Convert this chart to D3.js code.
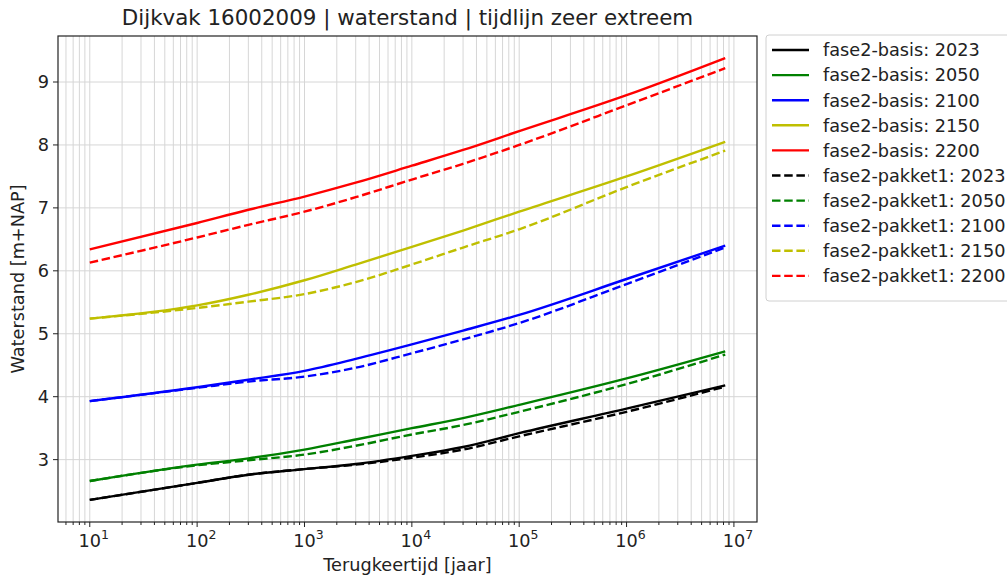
<!DOCTYPE html>
<html>
<head>
<meta charset="utf-8">
<script src="https://cdn.jsdelivr.net/npm/d3@7"></script>
<style>
  body { margin: 0; background: #fff; }
  svg { font-family: "DejaVu Sans", sans-serif; }
</style>
</head>
<body>
<div id="chart"></div>
<script>
// Terugkeertijd (jaar) sample points shared by all series
const returnPeriods = [10, 100, 300, 1000, 3000, 1e4, 3e4, 1e5, 1e6, 8.3e6];

// basis series
const basis2023 = [2.36, 2.63, 2.76, 2.85, 2.93, 3.06, 3.20, 3.42, 3.81, 4.18];
const basis2050 = [2.66, 2.92, 3.02, 3.16, 3.32, 3.50, 3.66, 3.87, 4.29, 4.72];
const basis2100 = [3.93, 4.15, 4.27, 4.41, 4.60, 4.83, 5.05, 5.30, 5.87, 6.40];
const basis2150 = [5.24, 5.45, 5.62, 5.85, 6.10, 6.38, 6.64, 6.94, 7.50, 8.05];
const basis2200 = [6.34, 6.76, 6.97, 7.18, 7.40, 7.67, 7.92, 8.22, 8.79, 9.38];

// pakket1 series
const pakket2023 = [2.36, 2.63, 2.76, 2.85, 2.92, 3.03, 3.16, 3.37, 3.76, 4.16];
const pakket2050 = [2.66, 2.91, 2.99, 3.08, 3.22, 3.40, 3.55, 3.76, 4.20, 4.67];
const pakket2100 = [3.93, 4.14, 4.24, 4.32, 4.46, 4.69, 4.91, 5.17, 5.79, 6.37];
const pakket2150 = [5.24, 5.41, 5.51, 5.63, 5.82, 6.10, 6.37, 6.66, 7.33, 7.91];
const pakket2200 = [6.13, 6.53, 6.73, 6.94, 7.17, 7.45, 7.70, 8.00, 8.63, 9.22];

const years = ["2023", "2050", "2100", "2150", "2200"];
const colors = ["#000000", "#008000", "#0000ff", "#bfbf00", "#ff0000"];
const yTicks = [3, 4, 5, 6, 7, 8, 9];
const xTicks = [1e1, 1e2, 1e3, 1e4, 1e5, 1e6, 1e7];

const basisValues = [basis2023, basis2050, basis2100, basis2150, basis2200];
const pakketValues = [pakket2023, pakket2050, pakket2100, pakket2150, pakket2200];

const series = [
    ...years.map((yr, i) => ({ name: "fase2-basis: " + yr, values: basisValues[i], color: colors[i], dashed: false })),
    ...years.map((yr, i) => ({ name: "fase2-pakket1: " + yr, values: pakketValues[i], color: colors[i], dashed: true }))
];

{
    const width = 1007, height = 580;
    const margin = { top: 36, left: 58 };
    const innerWidth = 757 - margin.left;
    const innerHeight = 522 - margin.top;
    const fs = 17.7;

    const svg = d3.select("#chart")
        .append("svg")
        .attr("width", width)
        .attr("height", height);

    const g = svg.append("g")
        .attr("transform", `translate(${margin.left}, ${margin.top})`);

    // matplotlib-style 5% margins in log space
    const lx0 = Math.log10(d3.min(returnPeriods)), lx1 = Math.log10(d3.max(returnPeriods));
    const padX = (lx1 - lx0) * 0.05;
    const x = d3.scaleLog()
        .domain([Math.pow(10, lx0 - padX), Math.pow(10, lx1 + padX)])
        .range([0, innerWidth]);

    const allVals = series.flatMap(s => s.values);
    const y0 = d3.min(allVals), y1 = d3.max(allVals);
    const padY = (y1 - y0) * 0.05;
    const y = d3.scaleLinear()
        .domain([y0 - padY, y1 + padY])
        .range([innerHeight, 0]);

    // minor ticks (2..9 x 10^k)
    const minorTicks = [];
    for (let k = 0; k <= 7; k++) {
        for (let m = 2; m <= 9; m++) {
            const v = m * Math.pow(10, k);
            if (v >= x.domain()[0] && v <= x.domain()[1]) minorTicks.push(v);
        }
    }

    // Grid
    g.append("g")
        .selectAll("line")
        .data(xTicks.concat(minorTicks).filter(v => v <= x.domain()[1]))
        .join("line")
        .attr("x1", d => x(d)).attr("x2", d => x(d))
        .attr("y1", 0).attr("y2", innerHeight)
        .attr("stroke", "#d6d6d6")
        .attr("stroke-width", 1);

    g.append("g")
        .selectAll("line")
        .data(yTicks)
        .join("line")
        .attr("x1", 0).attr("x2", innerWidth)
        .attr("y1", d => y(d)).attr("y2", d => y(d))
        .attr("stroke", "#d6d6d6")
        .attr("stroke-width", 1);

    // Lines
    const line = d3.line()
        .x((d, i) => x(returnPeriods[i]))
        .y(d => y(d))
        .curve(d3.curveMonotoneX);

    g.append("g")
        .selectAll("path")
        .data(series)
        .join("path")
        .attr("d", d => line(d.values))
        .attr("fill", "none")
        .attr("stroke", d => d.color)
        .attr("stroke-width", 2.4)
        .attr("stroke-dasharray", d => d.dashed ? "8.5,3.7" : null);

    // Frame
    g.append("rect")
        .attr("width", innerWidth)
        .attr("height", innerHeight)
        .attr("fill", "none")
        .attr("stroke", "#222")
        .attr("stroke-width", 1.2);

    // X axis ticks
    const xAxis = g.append("g").attr("transform", `translate(0, ${innerHeight})`);
    xAxis.selectAll("line.major")
        .data(xTicks)
        .join("line")
        .attr("class", "major")
        .attr("x1", d => x(d)).attr("x2", d => x(d))
        .attr("y1", 0).attr("y2", 5)
        .attr("stroke", "#222");
    xAxis.selectAll("line.minor")
        .data(minorTicks)
        .join("line")
        .attr("class", "minor")
        .attr("x1", d => x(d)).attr("x2", d => x(d))
        .attr("y1", 0).attr("y2", 3)
        .attr("stroke", "#222");

    const xl = xAxis.selectAll("text")
        .data(xTicks)
        .join("text")
        .attr("x", d => x(d) + 4)
        .attr("y", 25)
        .attr("text-anchor", "middle")
        .attr("font-size", fs)
        .attr("fill", "#222");
    xl.append("tspan").text("10");
    xl.append("tspan")
        .attr("dy", -8)
        .attr("font-size", 12.5)
        .text(d => Math.round(Math.log10(d)));

    // Y axis ticks
    const yAxis = g.append("g");
    yAxis.selectAll("line")
        .data(yTicks)
        .join("line")
        .attr("x1", -5).attr("x2", 0)
        .attr("y1", d => y(d)).attr("y2", d => y(d))
        .attr("stroke", "#222");
    yAxis.selectAll("text")
        .data(yTicks)
        .join("text")
        .attr("x", -9)
        .attr("y", d => y(d))
        .attr("dy", "0.36em")
        .attr("text-anchor", "end")
        .attr("font-size", fs)
        .attr("fill", "#222")
        .text(d => d);

    // Labels
    svg.append("text")
        .attr("x", margin.left + innerWidth / 2)
        .attr("y", 571)
        .attr("text-anchor", "middle")
        .attr("font-size", fs)
        .attr("fill", "#222")
        .text("Terugkeertijd [jaar]");

    svg.append("text")
        .attr("transform", `translate(24, ${margin.top + innerHeight / 2}) rotate(-90)`)
        .attr("text-anchor", "middle")
        .attr("font-size", fs)
        .attr("fill", "#222")
        .text("Waterstand [m+NAP]");

    svg.append("text")
        .attr("x", margin.left + innerWidth / 2)
        .attr("y", 25)
        .attr("text-anchor", "middle")
        .attr("font-size", 21.4)
        .attr("fill", "#222")
        .text("Dijkvak 16002009 | waterstand | tijdlijn zeer extreem");

    // Legend
    const legend = svg.append("g").attr("transform", "translate(766, 35)");
    legend.append("rect")
        .attr("x", 0).attr("y", 0)
        .attr("width", 280).attr("height", 266)
        .attr("rx", 3)
        .attr("fill", "#fff")
        .attr("stroke", "#d0d0d0");
    const item = legend.selectAll("g.item")
        .data(series)
        .join("g")
        .attr("class", "item")
        .attr("transform", (d, i) => `translate(0, ${15 + i * 25.1})`);
    item.append("line")
        .attr("x1", 6).attr("x2", 43)
        .attr("stroke", d => d.color)
        .attr("stroke-width", 2.4)
        .attr("stroke-dasharray", d => d.dashed ? "8.5,3.7" : null);
    item.append("text")
        .attr("x", 57)
        .attr("dy", "0.36em")
        .attr("font-size", fs)
        .attr("fill", "#222")
        .text(d => d.name);
}
</script>
</body>
</html>
